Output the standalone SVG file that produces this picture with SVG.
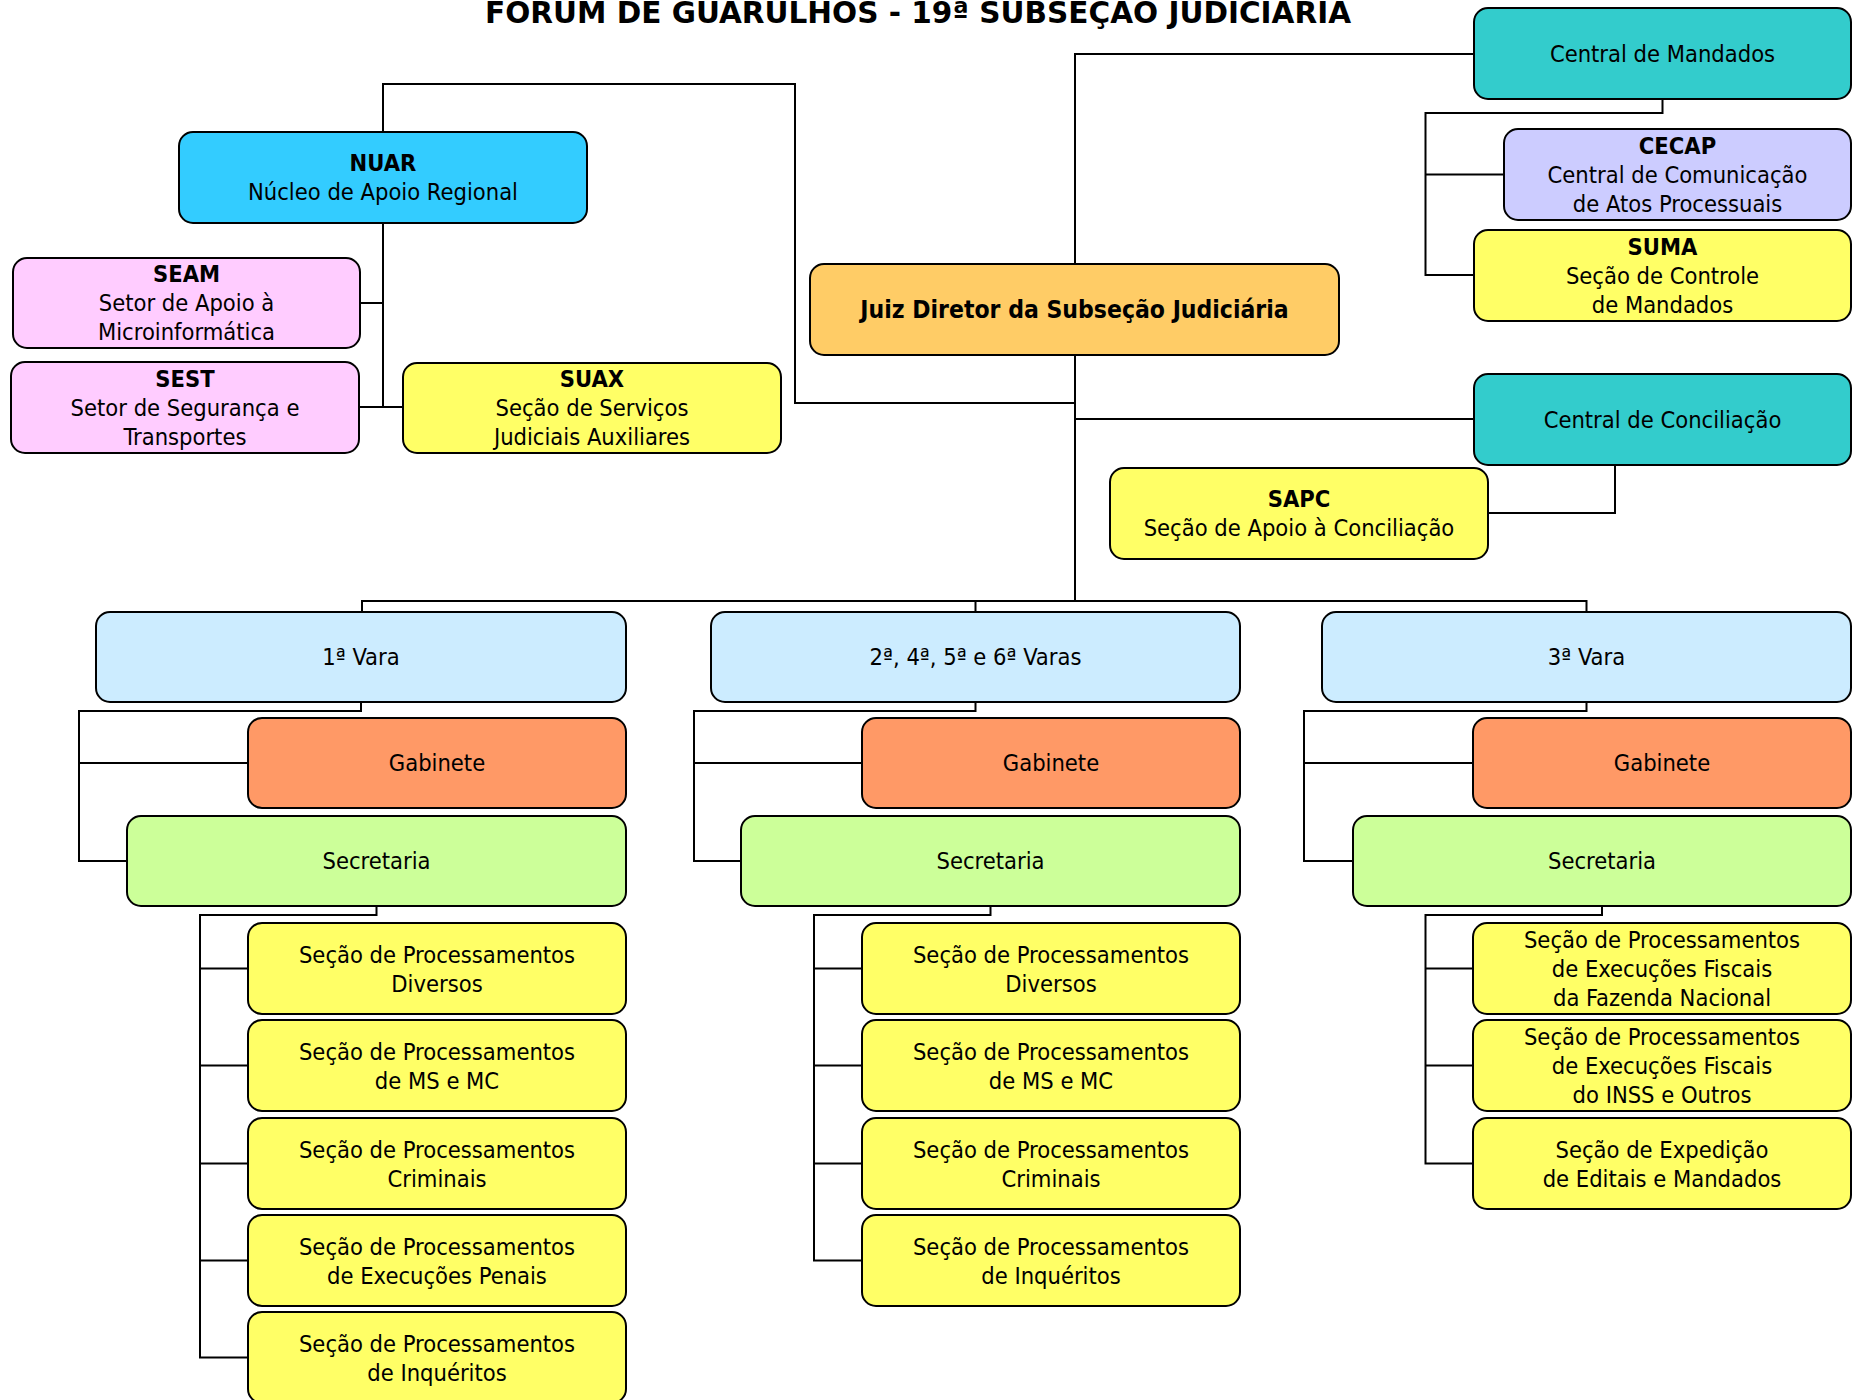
<svg xmlns="http://www.w3.org/2000/svg" width="1854" height="1400" viewBox="0 0 1854 1400">
<style>
.b{stroke:#000;stroke-width:2}
text{font-family:'DejaVu Sans Condensed','DejaVu Sans',sans-serif;font-stretch:condensed;font-size:23.5px;fill:#000;text-anchor:middle}
.bd{font-weight:bold}
.jt{font-weight:bold;font-size:24.5px}
.t{font-family:'DejaVu Sans',sans-serif;font-stretch:normal;font-weight:bold;font-size:29.5px}
.c{fill:none;stroke:#000;stroke-width:2}
.cm{fill:#33CCCC}.ce{fill:#CCCCFF}.y{fill:#FFFF66}.jd{fill:#FFCC66}.nu{fill:#33CCFF}.pk{fill:#FFCCFF}.va{fill:#CCECFF}.gb{fill:#FF9966}.sc{fill:#CCFF99}
</style>
<rect width="1854" height="1400" fill="#fff"/>
<text class="t" x="918" y="23" textLength="866" lengthAdjust="spacingAndGlyphs">FÓRUM DE GUARULHOS - 19ª SUBSEÇÃO JUDICIÁRIA</text>
<g id="connectors">
<path class="c" d="M1474,54 H1075 V264"/>
<path class="c" d="M1075,355 V601"/>
<path class="c" d="M1075,403 H795 V84 H383 V132"/>
<path class="c" d="M1075,419 H1474"/>
<path class="c" d="M1615,465 V513 H1488"/>
<path class="c" d="M1662.5,99 V113 H1425.5 V275 H1474 M1425.5,174.5 H1504"/>
<path class="c" d="M383,223 V407 M360,303 H383 M359,407 H403"/>
<path class="c" d="M362,612 V601 H1586.5 V612 M975.5,601 V612"/>
<path class="c" d="M361,702 V711 H79 V861 H127 M79,763 H248"/>
<path class="c" d="M376.5,906 V915 H200 V1357.5 H248 M200,968.5 H248 M200,1065.5 H248 M200,1163.5 H248 M200,1260.5 H248"/>
<path class="c" d="M975.5,702 V711 H694 V861 H741 M694,763 H862"/>
<path class="c" d="M990.5,906 V915 H814 V1260.5 H862 M814,968.5 H862 M814,1065.5 H862 M814,1163.5 H862"/>
<path class="c" d="M1586.5,702 V711 H1304 V861 H1353 M1304,763 H1473"/>
<path class="c" d="M1602,906 V915 H1425.5 V1163.5 H1473 M1425.5,968.5 H1473 M1425.5,1065.5 H1473"/>
</g>
<g id="central-mandados"><rect class="b cm" x="1474" y="8" width="377" height="91" rx="14"/><text x="1662.5" y="62">Central de Mandados</text></g>
<g id="cecap"><rect class="b ce" x="1504" y="129" width="347" height="91" rx="14"/><text x="1677.5" y="154" class="bd">CECAP</text><text x="1677.5" y="183">Central de Comunicação</text><text x="1677.5" y="212">de Atos Processuais</text></g>
<g id="suma"><rect class="b y" x="1474" y="230" width="377" height="91" rx="14"/><text x="1662.5" y="255" class="bd">SUMA</text><text x="1662.5" y="284">Seção de Controle</text><text x="1662.5" y="313">de Mandados</text></g>
<g id="juiz"><rect class="b jd" x="810" y="264" width="529" height="91" rx="14"/><text x="1074.5" y="318" class="jt">Juiz Diretor da Subseção Judiciária</text></g>
<g id="central-conciliacao"><rect class="b cm" x="1474" y="374" width="377" height="91" rx="14"/><text x="1662.5" y="428">Central de Conciliação</text></g>
<g id="sapc"><rect class="b y" x="1110" y="468" width="378" height="91" rx="14"/><text x="1299" y="507" class="bd">SAPC</text><text x="1299" y="536">Seção de Apoio à Conciliação</text></g>
<g id="nuar"><rect class="b nu" x="179" y="132" width="408" height="91" rx="14"/><text x="383" y="171" class="bd">NUAR</text><text x="383" y="200">Núcleo de Apoio Regional</text></g>
<g id="seam"><rect class="b pk" x="13" y="258" width="347" height="90" rx="14"/><text x="186.5" y="282" class="bd">SEAM</text><text x="186.5" y="311">Setor de Apoio à</text><text x="186.5" y="340">Microinformática</text></g>
<g id="sest"><rect class="b pk" x="11" y="362" width="348" height="91" rx="14"/><text x="185" y="387" class="bd">SEST</text><text x="185" y="416">Setor de Segurança e</text><text x="185" y="445">Transportes</text></g>
<g id="suax"><rect class="b y" x="403" y="363" width="378" height="90" rx="14"/><text x="592" y="387" class="bd">SUAX</text><text x="592" y="416">Seção de Serviços</text><text x="592" y="445">Judiciais Auxiliares</text></g>
<g id="vara1"><rect class="b va" x="96" y="612" width="530" height="90" rx="14"/><text x="361" y="665">1ª Vara</text></g>
<g id="vara2"><rect class="b va" x="711" y="612" width="529" height="90" rx="14"/><text x="975.5" y="665">2ª, 4ª, 5ª e 6ª Varas</text></g>
<g id="vara3"><rect class="b va" x="1322" y="612" width="529" height="90" rx="14"/><text x="1586.5" y="665">3ª Vara</text></g>
<g id="gab1"><rect class="b gb" x="248" y="718" width="378" height="90" rx="14"/><text x="437" y="771">Gabinete</text></g>
<g id="gab2"><rect class="b gb" x="862" y="718" width="378" height="90" rx="14"/><text x="1051" y="771">Gabinete</text></g>
<g id="gab3"><rect class="b gb" x="1473" y="718" width="378" height="90" rx="14"/><text x="1662" y="771">Gabinete</text></g>
<g id="sec1"><rect class="b sc" x="127" y="816" width="499" height="90" rx="14"/><text x="376.5" y="869">Secretaria</text></g>
<g id="sec2"><rect class="b sc" x="741" y="816" width="499" height="90" rx="14"/><text x="990.5" y="869">Secretaria</text></g>
<g id="sec3"><rect class="b sc" x="1353" y="816" width="498" height="90" rx="14"/><text x="1602" y="869">Secretaria</text></g>
<g id="s1-diversos"><rect class="b y" x="248" y="923" width="378" height="91" rx="14"/><text x="437" y="963">Seção de Processamentos</text><text x="437" y="992">Diversos</text></g>
<g id="s1-ms"><rect class="b y" x="248" y="1020" width="378" height="91" rx="14"/><text x="437" y="1060">Seção de Processamentos</text><text x="437" y="1089">de MS e MC</text></g>
<g id="s1-criminais"><rect class="b y" x="248" y="1118" width="378" height="91" rx="14"/><text x="437" y="1158">Seção de Processamentos</text><text x="437" y="1187">Criminais</text></g>
<g id="s1-penais"><rect class="b y" x="248" y="1215" width="378" height="91" rx="14"/><text x="437" y="1255">Seção de Processamentos</text><text x="437" y="1284">de Execuções Penais</text></g>
<g id="s1-inqueritos"><rect class="b y" x="248" y="1312" width="378" height="91" rx="14"/><text x="437" y="1352">Seção de Processamentos</text><text x="437" y="1381">de Inquéritos</text></g>
<g id="s2-diversos"><rect class="b y" x="862" y="923" width="378" height="91" rx="14"/><text x="1051" y="963">Seção de Processamentos</text><text x="1051" y="992">Diversos</text></g>
<g id="s2-ms"><rect class="b y" x="862" y="1020" width="378" height="91" rx="14"/><text x="1051" y="1060">Seção de Processamentos</text><text x="1051" y="1089">de MS e MC</text></g>
<g id="s2-criminais"><rect class="b y" x="862" y="1118" width="378" height="91" rx="14"/><text x="1051" y="1158">Seção de Processamentos</text><text x="1051" y="1187">Criminais</text></g>
<g id="s2-inqueritos"><rect class="b y" x="862" y="1215" width="378" height="91" rx="14"/><text x="1051" y="1255">Seção de Processamentos</text><text x="1051" y="1284">de Inquéritos</text></g>
<g id="s3-fazenda"><rect class="b y" x="1473" y="923" width="378" height="91" rx="14"/><text x="1662" y="948">Seção de Processamentos</text><text x="1662" y="977">de Execuções Fiscais</text><text x="1662" y="1006">da Fazenda Nacional</text></g>
<g id="s3-inss"><rect class="b y" x="1473" y="1020" width="378" height="91" rx="14"/><text x="1662" y="1045">Seção de Processamentos</text><text x="1662" y="1074">de Execuções Fiscais</text><text x="1662" y="1103">do INSS e Outros</text></g>
<g id="s3-editais"><rect class="b y" x="1473" y="1118" width="378" height="91" rx="14"/><text x="1662" y="1158">Seção de Expedição</text><text x="1662" y="1187">de Editais e Mandados</text></g>
</svg>
